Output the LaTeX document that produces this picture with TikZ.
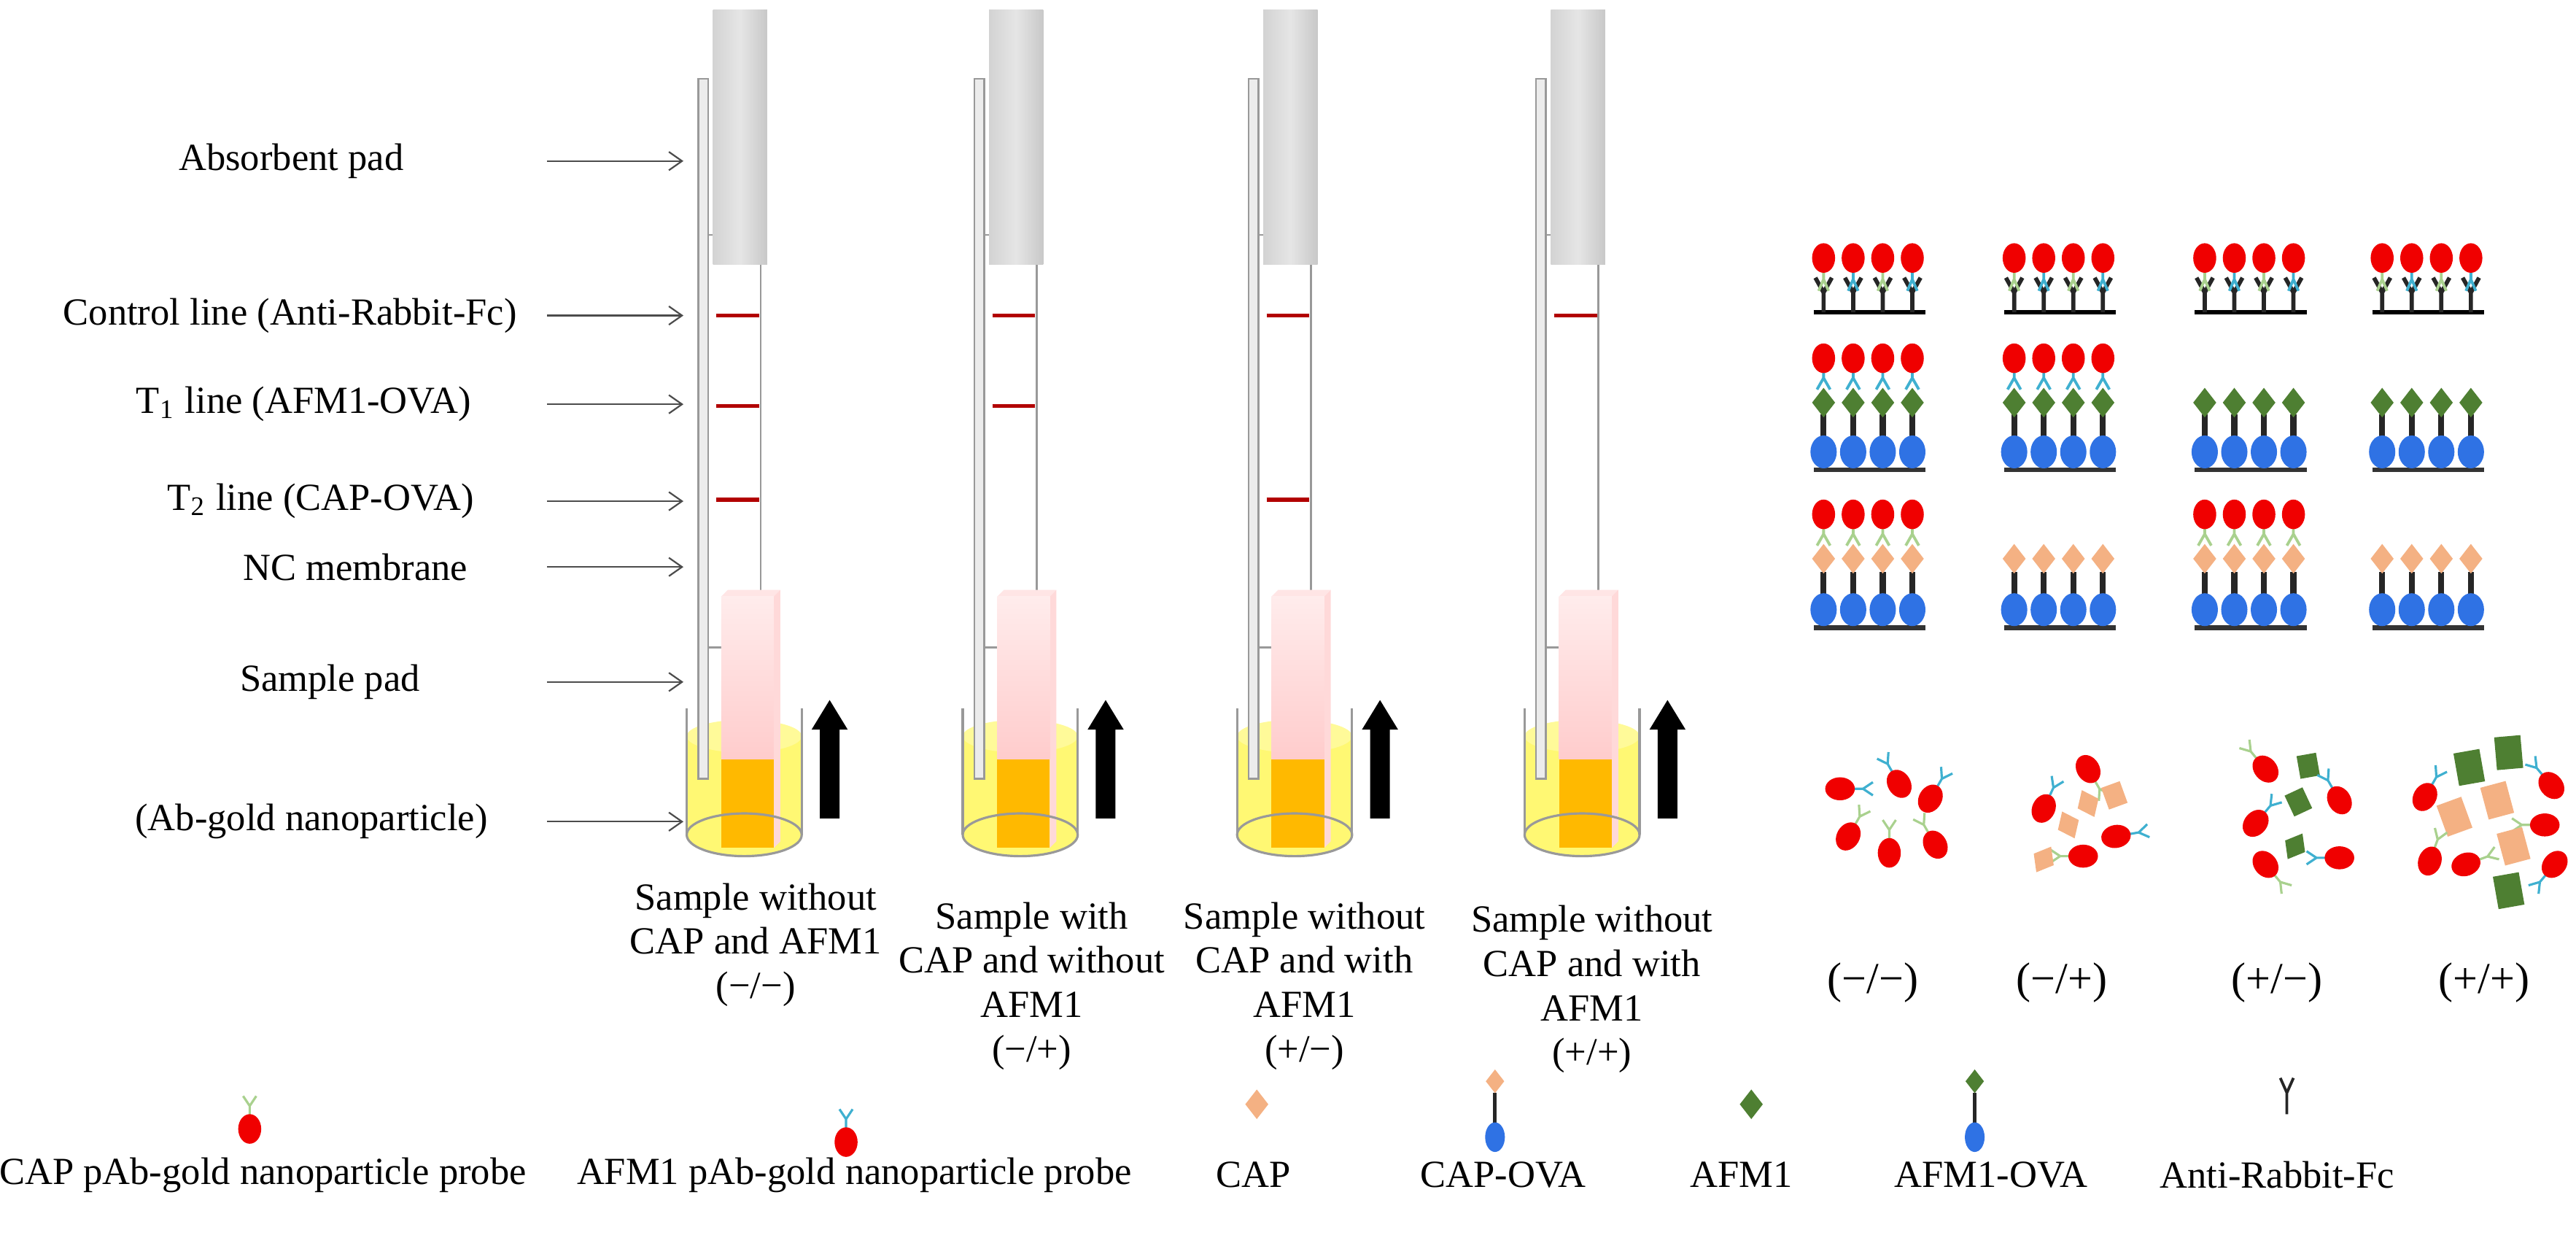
\documentclass[tikz,border=0pt]{standalone}
\usepackage{fontspec}
\setmainfont{Liberation Serif}
\usetikzlibrary{positioning, arrows.meta}

\definecolor{goldred}{HTML}{F00000}
\definecolor{capab}{HTML}{A9D18E}
\definecolor{afmab}{HTML}{3FB0D0}
\definecolor{afmgreen}{HTML}{4E7F32}
\definecolor{caporange}{HTML}{F4B183}
\definecolor{ovablue}{HTML}{2F72E4}
\definecolor{padgrey}{HTML}{C8C8C8}

\tikzset{
    lbl/.style={font=\fontsize{8.3}{9.6}\selectfont, align=center, inner sep=1pt},
    ptr/.style={-{Straight Barb[length=1mm,width=1.4mm]}, line width=0.35pt, black!70},
    % gold probe: ball with its antibody pointing down before rotation
    pics/probe/.style={code={
        \draw[#1, line width=0.5pt] (0,8)--(0,14) (0,14)--(-4,20) (0,14)--(4,20);
        \fill[goldred] (0,0) ellipse (7 and 9);
    }},
    pics/dia/.style={code={\fill[#1] (0,-9)--(7,0)--(0,9)--(-7,0)--cycle;}},
    pics/sq/.style={code={\fill[#1] (-6,-7) rectangle (6,7);}},
    pics/bigsq/.style={code={\fill[#1] (-8,-10) rectangle (8,10);}},
}

\begin{document}
\begin{tikzpicture}[x=0.125mm, y=-0.125mm]
    \useasboundingbox (0,0) rectangle (1568,758);

    % strips: offset / T1 line / T2 line / caption / caption x / caption y
    \foreach \dx/\tone/\ttwo/\cap/\cx/\cy in {
        0/1/1/{Sample without\\CAP and AFM1\\(−/−)}/460/575,
        168/1/0/{Sample with\\CAP and without\\AFM1\\(−/+)}/460/600,
        335/0/1/{Sample without\\CAP and with\\AFM1\\(+/−)}/459/600,
        510/0/0/{Sample without\\CAP and with\\AFM1\\(+/+)}/459/602
    }{
        \begin{scope}[xshift=\dx*0.125mm]
            % beaker liquid
            \fill[yellow!55] (418,448) rectangle (488,508);
            \fill[yellow!55] (453,508) ellipse (35 and 13);
            \fill[yellow!40] (453,448) ellipse (35 and 10);
            % backing card and membrane
            \filldraw[fill=gray!15, draw=gray!80, line width=0.4pt] (425,48) rectangle (431,474);
            \filldraw[fill=white, draw=gray!80, line width=0.4pt] (431,143) rectangle (463,394);
            % absorbent pad
            \shade[left color=padgrey!80, right color=padgrey, middle color=gray!20] (434,6) rectangle (467,161);
            % control and test lines
            \draw[red!70!black, line width=0.9pt] (436,192) -- (462,192);
            \ifnum\tone=1 \draw[red!70!black, line width=0.9pt] (436,247) -- (462,247); \fi
            \ifnum\ttwo=1 \draw[red!70!black, line width=0.9pt] (436,304) -- (462,304); \fi
            % sample pad
            \fill[pink!40] (439,363) -- (443,359) -- (475,359) -- (471,363) -- cycle;
            \fill[pink!60] (471,363) -- (475,359) -- (475,512) -- (471,516) -- cycle;
            \shade[top color=pink!30, bottom color=pink!80] (439,363) rectangle (471,462);
            \fill[orange!55!yellow] (439,462) rectangle (471,516);
            % beaker outline
            \draw[gray!80, line width=0.5pt] (418,431) -- (418,508) (488,431) -- (488,508);
            \draw[gray!80, line width=0.5pt] (453,508) ellipse (35 and 13);
            % flow arrow
            \fill[black] (499,498) -- (499,444) -- (494,444) -- (505,426) -- (516,444)
                -- (511,444) -- (511,498) -- cycle;
            \node[lbl] (cap\dx) at (\cx,\cy) {\cap};
        \end{scope}
    }

    % part labels
    \foreach \nm/\ty/\ex/\txt in {
        absorb/98/249/{Absorbent pad},
        ctrl/192/318/{Control line (Anti-Rabbit-Fc)},
        tone/246/290/{T\textsubscript{1} line (AFM1-OVA)},
        ttwo/305/292/{T\textsubscript{2} line (CAP-OVA)},
        nc/345/288/{NC membrane},
        spad/415/259/{Sample pad},
        gold/500/306/{(Ab-gold nanoparticle)}
    }{
        \node[lbl, anchor=east] (\nm) at (\ex,\ty) {\txt};
        \coordinate (\nm tip) at (416,\ty);
        \draw[ptr] (333,\ty) -- (\nm tip);
    }

    % right panel: capture zones
    \foreach \gx/\rtwo/\rthree in {1110/1/1, 1226/1/0, 1342/0/1, 1450/0/0}{
        \draw[black, line width=1pt] (\gx-6,190) -- (\gx+62,190);
        \draw[black!80, line width=1pt] (\gx-6,286) -- (\gx+62,286);
        \draw[black!80, line width=1pt] (\gx-6,382) -- (\gx+62,382);
        \foreach \k in {0,1,2,3}{
            \pgfmathsetmacro{\xx}{\gx+\k*18}
            \pgfmathsetmacro{\abc}{mod(\k,2)==0 ? 1 : 0}
            % row 1
            \draw[black!85, line width=0.9pt] (\xx,190) -- (\xx,178) (\xx,178) -- (\xx-5,169) (\xx,178) -- (\xx+5,169);
            \ifdim\abc pt>0.5pt
                \draw[capab, line width=0.6pt] (\xx,165) -- (\xx,170) (\xx,170) -- (\xx-3,177) (\xx,170) -- (\xx+3,177);
            \else
                \draw[afmab, line width=0.6pt] (\xx,165) -- (\xx,170) (\xx,170) -- (\xx-3,177) (\xx,170) -- (\xx+3,177);
            \fi
            \fill[goldred] (\xx,157) ellipse (7 and 9);
            % row 2
            \draw[black!85, line width=1.3pt] (\xx,252) -- (\xx,266);
            \fill[ovablue] (\xx,275) ellipse (8 and 10);
            \pic at (\xx,245) {dia=afmgreen};
            \ifnum\rtwo=1
                \draw[afmab, line width=0.6pt] (\xx,226) -- (\xx,230) (\xx,230) -- (\xx-4,237) (\xx,230) -- (\xx+4,237);
                \fill[goldred] (\xx,218) ellipse (7 and 9);
            \fi
            % row 3
            \draw[black!85, line width=1.3pt] (\xx,348) -- (\xx,362);
            \fill[ovablue] (\xx,371) ellipse (8 and 10);
            \pic at (\xx,340) {dia=caporange};
            \ifnum\rthree=1
                \draw[capab, line width=0.6pt] (\xx,321) -- (\xx,325) (\xx,325) -- (\xx-4,332) (\xx,325) -- (\xx+4,332);
                \fill[goldred] (\xx,313) ellipse (7 and 9);
            \fi
        }
    }

    % right panel: free probes
    \pic[rotate=90] at (1120,480) {probe=afmab};
    \pic[rotate=-150] at (1156,477) {probe=afmab};
    \pic[rotate=150] at (1175,486) {probe=afmab};
    \pic[rotate=150] at (1125,509) {probe=capab};
    \pic[rotate=180] at (1150,519) {probe=capab};
    \pic[rotate=-150] at (1178,514) {probe=capab};

    \pic[rotate=30] at (1271,468) {probe=capab};
    \pic[rotate=155] at (1244,492) {probe=afmab};
    \pic[rotate=20] at (1287,484) {sq=caporange};
    \pic[rotate=25] at (1271,489) {dia=caporange};
    \pic[rotate=25] at (1259,502) {dia=caporange};
    \pic[rotate=100] at (1288,509) {probe=afmab};
    \pic[rotate=-90] at (1268,521) {probe=capab};
    \pic[rotate=-30] at (1244,523) {dia=caporange};

    \pic[rotate=-140] at (1379,468) {probe=capab};
    \pic[rotate=10] at (1405,466) {sq=afmgreen};
    \pic[rotate=-150] at (1424,487) {probe=afmab};
    \pic[rotate=25] at (1399,488) {sq=afmgreen};
    \pic[rotate=140] at (1373,501) {probe=afmab};
    \pic[rotate=-30] at (1397,515) {dia=afmgreen};
    \pic[rotate=-90] at (1424,522) {probe=afmab};
    \pic[rotate=40] at (1379,526) {probe=capab};

    \pic[rotate=10] at (1503,467) {bigsq=afmgreen};
    \pic[rotate=5] at (1527,458) {bigsq=afmgreen};
    \pic[rotate=-140] at (1553,478) {probe=afmab};
    \pic[rotate=150] at (1476,485) {probe=afmab};
    \pic[rotate=20] at (1494,497) {bigsq=caporange};
    \pic[rotate=15] at (1520,487) {bigsq=caporange};
    \pic[rotate=-90] at (1549,502) {probe=capab};
    \pic[rotate=15] at (1530,515) {bigsq=caporange};
    \pic[rotate=160] at (1479,524) {probe=capab};
    \pic[rotate=110] at (1501,526) {probe=capab};
    \pic[rotate=-40] at (1555,526) {probe=afmab};
    \pic[rotate=10] at (1527,542) {bigsq=afmgreen};

    % result labels
    \foreach \nm/\rx/\txt in {rmm/1140/{(−/−)}, rmp/1255/{(−/+)}, rpm/1386/{(+/−)}, rpp/1512/{(+/+)}}{
        \node[font=\fontsize{9.5}{11}\selectfont] (\nm) at (\rx,598) {\txt};
    }

    % legend
    \pic[rotate=180] at (152,687) {probe=capab};
    \pic[rotate=180] at (515,695) {probe=afmab};
    \pic at (765,672) {dia=caporange};
    \draw[black!85, line width=0.8pt] (910,665) -- (910,683);
    \fill[ovablue] (910,692) ellipse (6 and 9);
    \pic[scale=0.8] at (910,658) {dia=caporange};
    \pic at (1066,672) {dia=afmgreen};
    \draw[black!85, line width=0.8pt] (1202,665) -- (1202,683);
    \fill[ovablue] (1202,692) ellipse (6 and 9);
    \pic[scale=0.8] at (1202,658) {dia=afmgreen};
    \draw[black!85, line width=0.6pt] (1392,678) -- (1392,665) (1392,665) -- (1388,656) (1392,665) -- (1396,656);

    \foreach \nm/\lx/\txt in {
        lcap/160/{CAP pAb-gold nanoparticle probe},
        lafm/520/{AFM1 pAb-gold nanoparticle probe},
        lcapm/763/{CAP},
        lcapova/915/{CAP-OVA},
        lafmm/1060/{AFM1},
        lafmova/1212/{AFM1-OVA},
        lfc/1389/{Anti-Rabbit-Fc}
    }{
        \node[lbl] (\nm) at (\lx,715) {\txt};
    }
\end{tikzpicture}
\end{document}
